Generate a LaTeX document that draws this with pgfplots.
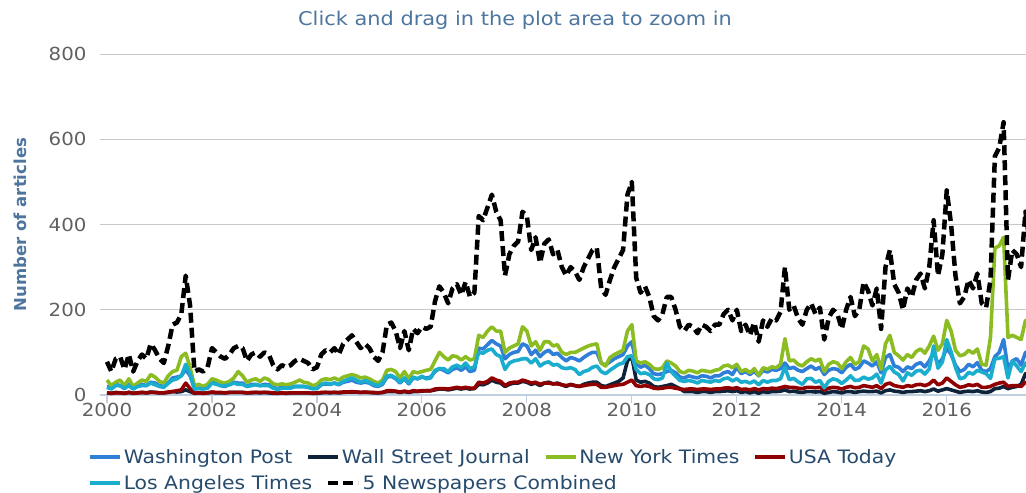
\documentclass[border=0pt]{standalone}
\usepackage{fontspec}
\setmainfont{DejaVu Sans}[FakeStretch=1.1]
\newfontfamily\ylabfont{DejaVu Sans}
\usepackage{pgfplots}
\usepackage{pgfplotstable}
\pgfplotsset{compat=1.18}
\definecolor{cwp}{HTML}{2F7ED8}
\definecolor{cwsj}{HTML}{0D233A}
\definecolor{cnyt}{HTML}{8BBC21}
\definecolor{cusa}{HTML}{910000}
\definecolor{clat}{HTML}{1AADCE}
\definecolor{titc}{HTML}{4D759E}
\definecolor{legc}{HTML}{274B6D}
\definecolor{labc}{HTML}{606060}
\definecolor{gridc}{HTML}{C8C8C8}
\definecolor{axc}{HTML}{C0D0E0}
\pgfplotsset{
  swp/.style={draw=cwp, line width=3.6bp},
  swsj/.style={draw=cwsj, line width=3.6bp},
  snyt/.style={draw=cnyt, line width=3.6bp},
  susa/.style={draw=cusa, line width=3.6bp},
  slat/.style={draw=clat, line width=3.6bp},
  scomb/.style={draw=black, line width=4.5bp, dash pattern=on 10bp off 5bp},
  myleg/.style={
    legend style={draw=none, fill=none, inner sep=0pt, anchor=west, legend columns=-1,
      font=\fontsize{18.5bp}{22bp}\selectfont, text=legc,
      /tikz/every even column/.append style={column sep=12bp}},
    legend image code/.code={\draw[##1] (0bp,0bp) -- (30bp,0bp);}
  }
}
\pgfplotstableread{
t wp wsj nyt usa lat comb
0 20 5 35 5 18 78
1 18 4 22 4 14 55
2 25 6 30 5 22 85
3 22 5 35 5 22 90
4 15 4 22 4 16 60
5 25 6 38 6 22 95
6 15 4 20 4 14 55
7 22 5 28 5 20 80
8 25 6 35 6 22 95
9 22 5 32 5 22 85
10 30 7 48 6 28 120
11 28 6 42 6 24 105
12 22 5 32 5 20 85
13 20 5 28 5 18 75
14 28 6 45 7 28 115
15 40 8 55 8 35 165
16 42 7 58 10 38 170
17 45 8 90 12 45 190
18 60 12 98 28 72 280
19 45 8 65 15 50 210
20 15 4 22 4 14 55
21 16 5 25 5 15 60
22 15 4 20 4 14 55
23 18 5 25 5 16 65
24 30 6 38 7 28 110
25 28 5 35 6 25 100
26 22 5 30 6 22 90
27 20 5 28 5 22 85
28 25 6 32 6 24 95
29 30 6 40 6 28 110
30 28 6 55 6 25 115
31 28 6 45 6 25 110
32 20 5 30 5 20 80
33 25 5 35 6 22 95
34 25 6 38 6 24 100
35 22 5 32 6 22 90
36 25 6 40 6 22 100
37 24 5 36 6 22 95
38 18 4 26 5 16 70
39 15 4 24 4 13 60
40 18 5 26 5 16 70
41 17 4 24 4 16 65
42 18 5 26 5 16 70
43 20 5 30 5 20 80
44 20 5 35 5 20 85
45 20 5 30 5 20 80
46 18 5 28 5 18 75
47 15 4 22 4 15 60
48 16 4 25 5 15 65
49 24 5 35 6 25 95
50 26 6 38 6 28 105
51 25 5 36 6 26 100
52 28 6 40 6 28 110
53 24 5 35 6 25 95
54 30 6 42 7 32 120
55 32 7 45 7 36 130
56 35 7 48 8 40 140
57 30 7 45 7 35 125
58 28 6 40 6 30 110
59 30 6 42 7 34 120
60 28 6 38 6 30 110
61 22 5 32 6 25 90
62 20 5 28 5 22 80
63 25 6 35 6 28 100
64 42 8 58 10 45 165
65 44 8 60 10 46 170
66 38 8 55 9 40 150
67 28 6 40 7 30 110
68 38 8 55 9 40 150
69 26 6 38 7 28 105
70 40 8 55 10 42 155
71 38 8 52 9 38 145
72 42 9 55 10 44 160
73 40 10 58 10 38 155
74 42 10 60 10 40 160
75 55 12 80 14 58 220
76 62 14 100 15 62 255
77 58 14 90 15 62 240
78 52 12 82 14 55 215
79 60 14 92 16 66 250
80 64 16 90 18 70 260
81 58 14 82 16 64 235
82 66 16 90 18 75 265
83 55 14 82 16 62 230
84 58 15 85 16 66 240
85 110 25 140 30 100 420
86 108 24 135 28 98 410
87 118 28 150 32 105 440
88 128 35 160 40 108 470
89 120 30 150 35 95 430
90 115 28 150 32 90 410
91 85 20 100 22 60 280
92 95 25 110 28 75 330
93 100 28 115 30 80 350
94 102 28 120 30 82 360
95 120 32 160 35 85 430
96 115 30 150 32 85 420
97 95 25 115 28 75 340
98 105 28 125 30 85 370
99 90 22 105 25 68 310
100 100 28 125 28 75 355
101 105 30 125 28 78 365
102 95 26 115 26 70 330
103 98 28 118 26 72 340
104 88 24 100 24 64 300
105 80 20 95 22 62 280
106 88 25 100 24 64 300
107 85 22 100 22 60 290
108 80 20 105 20 48 270
109 88 25 110 22 55 300
110 95 28 115 24 58 320
111 100 30 118 25 65 340
112 100 30 120 25 68 345
113 75 22 75 18 55 250
114 70 20 68 18 50 235
115 78 24 88 20 58 270
116 85 28 95 22 65 300
117 90 32 100 24 72 320
118 95 40 105 25 75 340
119 115 80 150 30 90 470
120 125 90 165 35 92 500
121 75 35 80 22 60 275
122 65 30 75 20 50 240
123 70 32 78 22 52 255
124 62 28 72 20 48 230
125 50 20 62 16 38 185
126 48 18 60 15 36 175
127 50 20 64 16 40 190
128 55 22 80 18 75 230
129 58 25 75 18 55 230
130 52 20 68 16 44 200
131 42 15 55 14 34 160
132 40 8 52 13 32 150
133 45 8 58 14 34 165
134 42 8 56 14 32 160
135 40 6 52 13 28 145
136 45 8 58 14 34 165
137 44 8 56 14 32 160
138 40 6 54 13 30 150
139 45 8 58 14 34 165
140 45 8 60 14 32 165
141 52 9 68 16 38 190
142 55 10 70 17 40 200
143 48 8 64 15 33 175
144 65 10 72 17 38 200
145 50 6 55 13 30 150
146 55 8 60 14 32 165
147 48 5 52 12 28 140
148 56 8 62 15 33 170
149 45 4 46 12 24 125
150 58 8 64 15 34 175
151 54 6 60 14 30 160
152 60 8 66 16 34 180
153 58 8 64 15 34 175
154 62 9 72 17 38 195
155 75 12 132 20 65 300
156 62 8 80 18 36 200
157 65 9 82 18 39 210
158 58 7 72 16 31 180
159 55 6 68 15 25 165
160 62 8 78 18 38 200
161 68 8 85 18 39 215
162 60 7 80 17 30 190
163 65 8 84 18 34 205
164 48 4 55 12 17 130
165 58 6 72 16 32 180
166 62 8 78 18 38 200
167 60 7 75 17 35 190
168 52 5 62 14 27 155
169 65 8 78 18 35 200
170 72 8 88 20 45 230
171 60 6 72 17 34 185
172 65 8 78 18 35 200
173 80 9 115 22 42 265
174 75 8 108 20 37 245
175 68 8 80 18 40 210
176 78 9 95 22 49 250
177 52 5 60 15 28 155
178 88 10 120 25 59 300
179 95 12 140 28 67 340
180 68 9 100 22 54 260
181 65 8 92 20 48 240
182 55 6 82 18 33 200
183 66 8 95 22 52 250
184 62 8 88 20 46 230
185 72 9 102 24 56 270
186 76 10 108 25 58 285
187 66 8 98 22 49 250
188 80 10 115 26 61 300
189 100 14 138 35 115 410
190 72 9 105 24 63 280
191 85 12 120 28 77 330
192 110 15 175 40 130 480
193 95 12 150 32 101 400
194 70 9 105 24 65 280
195 55 6 92 18 38 215
196 60 8 95 20 41 230
197 72 9 105 24 53 270
198 66 8 98 22 49 250
199 76 10 108 25 58 285
200 58 7 72 18 54 215
201 55 6 70 18 50 205
202 62 8 135 20 39 270
203 90 15 345 25 85 560
204 100 16 350 28 86 580
205 130 20 370 30 90 640
206 60 15 135 20 40 270
207 80 18 140 22 80 340
208 85 20 135 22 68 330
209 70 25 130 20 55 300
210 100 50 175 30 75 430
211 80 40 150 25 60 355
}\datatable
\begin{document}
\begin{tikzpicture}
\useasboundingbox (-100bp,-98bp) rectangle (926bp,395bp);
\begin{axis}[
  at={(0bp,0bp)}, anchor=south west,
  scale only axis, width=926bp, height=341bp,
  xmin=1999.867, xmax=2017.51, ymin=0, ymax=800,
  axis x line*=bottom, axis y line*=left,
  x axis line style={draw=axc, line width=1.2bp, -},
  y axis line style={draw=none, -},
  xtick={2000,2002,2004,2006,2008,2010,2012,2014,2016},
  xticklabels={2000,2002,2004,2006,2008,2010,2012,2014,2016},
  ytick={0,200,400,600,800},
  yticklabels={0,200,400,600,800},
  xtick style={draw=axc, line width=1.2bp},
  ytick style={draw=none},
  xtick align=outside, major tick length=8bp,
  ymajorgrids, grid style={draw=gridc, line width=1bp},
  /pgf/number format/assume math mode=true,
  tick label style={font=\fontsize{18bp}{22bp}\selectfont, text=labc},
  xticklabel style={yshift=3bp},
  yticklabel style={xshift=-10bp},
  ylabel={Number of articles},
  ylabel style={at={(axis description cs:-0.0864,0.5)}, anchor=center, rotate=0,
    font=\ylabfont\bfseries\fontsize{16.5bp}{20bp}\selectfont, text=titc},
  every axis plot/.append style={line join=round},
  myleg,
  legend style={at={(axis description cs:-0.013,-0.182)}},
]
\addplot[swp] table[x expr=2000+\thisrow{t}/12, y=wp] {\datatable};
\addlegendentry{Washington Post}
\addplot[swsj] table[x expr=2000+\thisrow{t}/12, y=wsj] {\datatable};
\addlegendentry{Wall Street Journal}
\addplot[snyt] table[x expr=2000+\thisrow{t}/12, y=nyt] {\datatable};
\addlegendentry{New York Times}
\addplot[susa] table[x expr=2000+\thisrow{t}/12, y=usa] {\datatable};
\addlegendentry{USA Today}
\addplot[slat, forget plot] table[x expr=2000+\thisrow{t}/12, y=lat] {\datatable};
\addplot[scomb, forget plot] table[x expr=2000+\thisrow{t}/12, y=comb] {\datatable};
\end{axis}
\begin{axis}[
  at={(0bp,0bp)}, anchor=south west,
  scale only axis, width=926bp, height=341bp,
  xmin=0, xmax=1, ymin=0, ymax=1, hide axis,
  myleg,
  legend style={at={(axis description cs:-0.013,-0.258)}},
]
\addlegendimage{slat}
\addlegendentry{Los Angeles Times}
\addlegendimage{scomb}
\addlegendentry{5 Newspapers Combined}
\end{axis}
\node[font=\fontsize{19bp}{23bp}\selectfont, text=titc] at (415bp,375bp) {Click and drag in the plot area to zoom in};
\end{tikzpicture}
\end{document}
